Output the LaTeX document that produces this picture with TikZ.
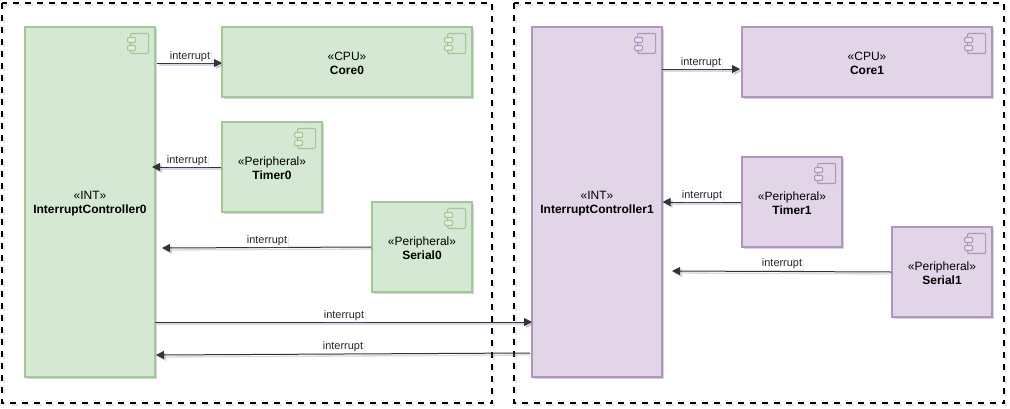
\documentclass[tikz,border=0pt]{standalone}
\usepackage{fontspec}
\setmainfont{Liberation Sans}
\usetikzlibrary{arrows.meta,shadows,calc}
\definecolor{gfill}{HTML}{D5E8D4}
\definecolor{gline}{HTML}{A3C795}
\definecolor{pfill}{HTML}{E1D5E7}
\definecolor{pline}{HTML}{B096BE}
\definecolor{shade}{HTML}{8C93B8}
\newcommand{\tl}{\rule{0pt}{8.2pt}}
\tikzset{
  softshadow/.style={general shadow={shadow xshift=1.6pt,shadow yshift=-1.6pt,fill=shade,opacity=.4}},
  comp/.style={rectangle,draw,line width=.85pt,softshadow,align=center,inner sep=0pt,
    font=\fontsize{9pt}{10.2pt}\selectfont,text=black},
  gcomp/.style={comp,fill=gfill,draw=gline},
  pcomp/.style={comp,fill=pfill,draw=pline},
  wire/.style={draw=black!80,line width=.75pt,-{Triangle[length=6pt,width=6pt]},
    preaction={draw=shade,opacity=.35,line width=1pt,transform canvas={shift={(1.5pt,-1.5pt)}}}},
  lbl/.style={fill=white,inner xsep=.5pt,inner ysep=.6pt,text=black!85,
    font=\fontsize{8.2pt}{9pt}\selectfont,
    general shadow={shadow xshift=1pt,shadow yshift=-1pt,fill=shade,opacity=.2}},
  region/.style={draw=black,line width=1.5pt,dash pattern=on 4.5pt off 4.5pt,
    preaction={draw=shade,opacity=.22,line width=1.5pt,dash pattern=on 4.5pt off 4.5pt,transform canvas={shift={(1.5pt,-1.5pt)}}}},
  icon/.pic={
    \draw[line width=.85pt,draw=#1,rounded corners=.8pt] (-25,7) rectangle (-7,27);
    \draw[line width=.85pt,draw=#1,rounded corners=.8pt,fill=#1!30] (-28,11) rectangle (-20,16);
    \draw[line width=.85pt,draw=#1,rounded corners=.8pt,fill=#1!30] (-28,19) rectangle (-20,24);
  },
}
\begin{document}
\begin{tikzpicture}[x=.75pt,y=-.75pt]
\useasboundingbox (0,0) rectangle (1010,408);
\fill[white] (0,0) rectangle (1010,408);
\node[gcomp,minimum width=97.5pt,minimum height=262.5pt] (ic0) at (90,202) {\tl «INT»\\\textbf{InterruptController0}};
\node[gcomp,minimum width=187.5pt,minimum height=52.5pt] (core0) at (347,62) {\tl «CPU»\\\textbf{Core0}};
\node[gcomp,minimum width=75pt,minimum height=67.5pt] (timer0) at (272,167) {\tl «Peripheral»\\\textbf{Timer0}};
\node[gcomp,minimum width=75pt,minimum height=67.5pt] (serial0) at (422,247) {\tl «Peripheral»\\\textbf{Serial0}};
\node[pcomp,minimum width=97.5pt,minimum height=262.5pt] (ic1) at (597,202) {\tl «INT»\\\textbf{InterruptController1}};
\node[pcomp,minimum width=187.5pt,minimum height=52.5pt] (core1) at (867,62) {\tl «CPU»\\\textbf{Core1}};
\node[pcomp,minimum width=75pt,minimum height=67.5pt] (timer1) at (792,202) {\tl «Peripheral»\\\textbf{Timer1}};
\node[pcomp,minimum width=75pt,minimum height=67.5pt] (serial1) at (942,272) {\tl «Peripheral»\\\textbf{Serial1}};
\foreach \n in {ic0,core0,timer0,serial0} \pic at (\n.north east) {icon=gline};
\foreach \n in {ic1,core1,timer1,serial1} \pic at (\n.north east) {icon=pline};
\coordinate (rtl) at (2,2.5); \coordinate (rbr) at (492,403);
\coordinate (sol) at (514,2.5); \coordinate (sbr) at (1004,403);
\draw[region] (rtl) rectangle (rbr);
\draw[region] (sol) rectangle (sbr);
\coordinate (a0) at (157,63); \coordinate (a1) at (222,63);
\coordinate (b1) at (152,167);
\coordinate (c1) at (162,248);
\coordinate (d0) at (155,322); \coordinate (d1) at (532,322);
\coordinate (e0) at (530,353); \coordinate (e1) at (156,355);
\coordinate (f0) at (662,69); \coordinate (f1) at (740,69);
\coordinate (h1) at (672,271);
\draw[wire] (a0) -- (a1);
\draw[wire] (timer0.west) -- (b1);
\draw[wire] (serial0.west) -- (c1);
\draw[wire] (d0) -- (d1);
\draw[wire] (e0) -- (e1);
\draw[wire] (f0) -- (f1);
\draw[wire] (timer1.west) -- (ic1.east |- timer1.west);
\draw[wire] (serial1.west) -- (h1);
\node[lbl] (l1) at (190,57) {interrupt};
\node[lbl] (l2) at (187,161) {interrupt};
\node[lbl] (l3) at (267,241) {interrupt};
\node[lbl] (l4) at (344,316) {interrupt};
\node[lbl] (l5) at (343,347) {interrupt};
\node[lbl] (l6) at (701,63) {interrupt};
\node[lbl] (l7) at (702,196) {interrupt};
\node[lbl] (l8) at (782,264) {interrupt};
\end{tikzpicture}
\end{document}
